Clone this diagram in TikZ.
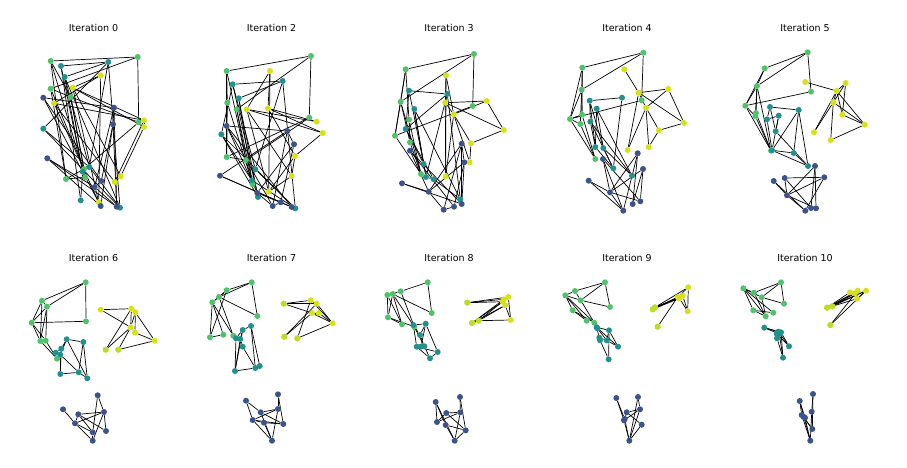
\documentclass[tikz,border=0pt]{standalone}
\usepackage{fontspec}
\setmainfont{DejaVu Sans}
\pgfdeclarelayer{bg}
\pgfsetlayers{bg,main}
\definecolor{cB}{HTML}{3B528B}
\definecolor{cT}{HTML}{21918C}
\definecolor{cG}{HTML}{4EC36B}
\definecolor{cY}{HTML}{D5E21A}
\definecolor{cL}{HTML}{BADE28}
\tikzset{
  dot/.style={circle,inner sep=0pt,minimum size=6pt,draw=none},
  edge/.style={draw=black,line width=0.7pt},
  ttl/.style={font=\fontsize{9.5}{11}\selectfont,inner sep=0pt}
}
\newcommand\grp[4]{\foreach \px/\py [count=\i] in {#4} {\node[dot,fill=#3] (#1#2\i) at (\px,\py) {};}}
\newcommand\edg[3]{\begin{pgfonlayer}{bg}\foreach \ea/\eb in {#3} {\draw[edge] (#1#2\ea) -- (#1#2\eb);}\end{pgfonlayer}}
\newcommand\lime[2]{\foreach \k in {#2} {\fill[cL] (#1\k.center) circle (3pt);}}
\begin{document}
\begin{tikzpicture}[x=1pt,y=-1pt]
\begin{pgfonlayer}{bg}
\fill[white] (0,0) rectangle (907,468);
\end{pgfonlayer}
\useasboundingbox (0,0) rectangle (907,468);
% titles
\node[ttl] (t0) at (93.5,28) {Iteration 0};
\node[ttl] (t2) at (271.5,28) {Iteration 2};
\node[ttl] (t3) at (449,28) {Iteration 3};
\node[ttl] (t4) at (627,28) {Iteration 4};
\node[ttl] (t5) at (805,28) {Iteration 5};
\node[ttl] (t6) at (93.5,258) {Iteration 6};
\node[ttl] (t7) at (271.5,258) {Iteration 7};
\node[ttl] (t8) at (449,258) {Iteration 8};
\node[ttl] (t9) at (627,258) {Iteration 9};
\node[ttl] (t10) at (805,258) {Iteration 10};
% ---- Iteration 0
\grp{A}{g}{cG}{50.7/61, 137.7/57, 50.7/88.7, 70.7/97, 138.7/122.3, 84/169, 85.3/177.3, 66/179}
\edg{A}{g}{1/2, 2/5, 1/8, 1/7, 1/4, 3/6, 3/8, 4/5, 4/7, 4/6, 5/6, 3/4, 7/8, 6/8, 2/3}
\grp{A}{t}{cT}{61/66, 108.3/62, 64.7/77, 43.3/128.7, 89.3/167, 82.7/171.7, 80.7/200.3, 120/207.7}
\edg{A}{t}{1/2, 2/3, 2/4, 3/5, 3/6, 1/6, 1/7, 4/8, 4/5, 5/8, 6/7, 3/8, 2/5, 2/8}
\grp{A}{y}{cY}{100.7/75.3, 72.7/87.7, 54/103.3, 144/120.3, 144/127, 120.7/176.3, 114.7/182, 98.7/202.3}
\edg{A}{y}{1/2, 1/3, 3/4, 2/5, 2/8, 3/7, 2/6, 4/5, 5/6, 4/7, 1/8, 6/7, 3/8, 2/4}
\grp{A}{b}{cB}{43.3/97.7, 114/107.7, 113/124.3, 47.3/158.3, 101.3/181, 94.7/187, 100.7/206, 116.7/206.7}
\edg{A}{b}{1/5, 1/7, 1/2, 2/3, 2/8, 3/5, 3/7, 4/6, 4/7, 4/8, 5/6, 6/8, 2/6, 3/8}
% ---- Iteration 2
\grp{B}{g}{cG}{311/56, 226.7/71, 227.3/102.7, 236.7/109.3, 309.3/117.7, 226.7/157, 246/160, 252.7/184.3}
\edg{B}{g}{1/2, 1/5, 2/3, 2/6, 3/6, 4/7, 5/6, 5/7, 4/8, 3/8, 2/7, 6/7, 7/8, 1/4}
\grp{B}{t}{cT}{232.7/84.3, 282.7/81, 238.7/98.3, 221.3/134.3, 255.3/169.3, 252/180.3, 258/197, 295.3/208.3}
\edg{B}{t}{1/2, 2/5, 2/8, 1/5, 1/7, 3/6, 3/7, 4/7, 4/8, 2/3, 5/6, 6/8, 4/6, 1/4, 5/8}
\grp{B}{y}{cY}{270/71, 246.7/109.3, 268/108.3, 316.7/121.7, 322.7/133, 295/156, 291.7/176, 268.7/191.7}
\edg{B}{y}{1/2, 1/8, 2/4, 2/5, 3/4, 3/6, 2/8, 5/6, 6/7, 7/8, 2/7, 3/5, 1/3, 6/8}
\grp{B}{b}{cB}{226.7/126, 287.3/131, 294/144.3, 220/175.7, 257.3/193, 272.7/206, 280.7/202.3, 291.7/207}
\edg{B}{b}{1/5, 1/8, 1/2, 2/3, 2/6, 3/7, 3/5, 4/7, 4/8, 5/6, 5/8, 6/7, 2/4, 1/6}
% ---- Iteration 3
\grp{C}{g}{cG}{474/54, 405.7/69.3, 400.7/101.7, 472.7/106, 409/119.7, 395/135.7, 410/142.3, 421/174}
\edg{C}{g}{1/2, 1/4, 2/3, 2/6, 3/6, 3/7, 6/4, 5/8, 3/8, 6/8, 7/8, 1/3, 5/7, 2/5}
\grp{C}{t}{cT}{409/90.7, 447.3/94, 414.3/109, 405.7/129, 423.7/164, 426/177, 433.7/179.3, 460.3/199.3}
\edg{C}{t}{1/2, 1/4, 2/4, 2/8, 3/6, 3/8, 4/5, 4/7, 5/6, 6/7, 1/5, 2/6, 7/8, 3/5}
\grp{C}{y}{cY}{446/75.3, 445.3/102.7, 486.7/101, 453.7/114.3, 503.7/130, 471/143.3, 469.7/162.3, 445.7/176.3}
\edg{C}{y}{1/2, 1/8, 2/3, 2/5, 3/5, 5/6, 4/3, 4/6, 4/7, 2/4, 2/8, 4/8, 6/7, 1/4}
\grp{C}{b}{cB}{461.7/143.7, 410/150.7, 464.3/162.3, 402/183.3, 428.7/191.7, 443.7/209.7, 454/206.7, 461.7/204}
\edg{C}{b}{1/3, 1/6, 1/8, 2/7, 2/8, 4/5, 4/8, 5/6, 5/3, 3/7, 3/8, 6/7, 2/5, 1/5}
% ---- Iteration 4
\grp{D}{g}{cG}{643.3/52.7, 582.3/67.7, 581.7/89.7, 641.7/100.3, 570/119, 582/114.7, 580.3/124, 595.3/159}
\edg{D}{g}{1/2, 1/3, 1/4, 2/3, 2/5, 3/6, 3/7, 5/6, 5/7, 5/4, 5/8, 6/8, 7/8, 3/5, 2/6}
\grp{D}{t}{cT}{622/97.7, 589.7/100.7, 596.7/108.7, 590.3/121.7, 595.3/147, 603.3/148, 613.3/168.3, 632/175.7}
\edg{D}{t}{1/2, 1/7, 2/5, 2/6, 3/5, 3/6, 3/8, 4/5, 4/8, 5/7, 6/8, 4/7, 2/4, 6/7}
\grp{D}{y}{cY}{624.3/69.3, 638.7/92.7, 668.3/89, 646/107.7, 684/123, 659/130.3, 627.7/150, 648.7/147}
\edg{D}{y}{1/2, 2/3, 2/5, 3/4, 3/5, 5/6, 4/6, 4/8, 4/7, 2/4, 6/8, 2/7}
\grp{D}{b}{cB}{637.7/153.3, 603/159, 643/169, 588.7/180.7, 610/192.3, 640.3/201.3, 632.7/204, 623.3/210.7}
\edg{D}{b}{1/7, 1/8, 2/5, 2/8, 2/6, 3/5, 3/6, 3/7, 4/5, 4/8, 5/6, 5/8, 1/5}
% ---- Iteration 5
\grp{E}{g}{cG}{807.7/52.3, 764.7/68.3, 757/86, 811/91.7, 745.3/105.7, 756/113, 755.3/116, 771/150.7}
\edg{E}{g}{1/2, 1/3, 1/4, 2/3, 2/5, 3/5, 3/6, 3/7, 5/4, 5/8, 6/8, 7/8, 3/8, 5/7}
\grp{E}{t}{cT}{770/107, 778.7/115.7, 798.7/110, 767/119.3, 775.7/131.3, 772/150.3, 793.7/153, 808/166}
\edg{E}{t}{1/3, 1/4, 1/5, 2/4, 2/5, 3/7, 3/6, 3/8, 4/6, 5/8, 6/7, 6/8, 7/8, 2/6}
\grp{E}{y}{cY}{805.3/82, 845.7/83, 836.7/91, 833.3/102.3, 842.3/114.7, 864.7/124.7, 814/132.3, 830.7/140}
\edg{E}{y}{1/3, 2/3, 2/4, 3/4, 3/5, 3/6, 4/6, 5/6, 4/7, 3/7, 4/8, 6/8, 2/5}
\grp{E}{b}{cB}{815/166, 773.7/181, 784.7/178, 824.3/177.3, 787/195.3, 805.3/210.7, 811/208, 816/208.3}
\edg{E}{b}{1/7, 1/8, 2/6, 2/5, 3/5, 3/4, 3/7, 4/6, 4/5, 5/6, 5/8, 1/5}
% ---- Iteration 6
\grp{F}{g}{cG}{85.7/282.3, 42/300.7, 47/306.7, 31.7/322.7, 86/321.3, 40.3/341, 45.7/340.7, 57/358.7}
\edg{F}{g}{1/2, 1/3, 1/5, 2/3, 2/4, 3/4, 4/5, 2/6, 3/7, 4/6, 4/7, 6/8, 7/8, 3/6}
\grp{F}{t}{cT}{66.7/339.3, 83.3/342, 61.3/348.7, 55.7/352.7, 60.3/354.7, 60.3/374, 78.7/372.3, 87.3/378.3}
\edg{F}{t}{1/2, 1/3, 1/5, 2/7, 2/8, 3/6, 4/5, 5/6, 6/7, 7/8, 1/8, 3/4, 5/7}
\grp{F}{y}{cY}{100.7/309.7, 131.3/308.7, 135.3/312.3, 130.7/327.3, 135/332.7, 154.7/340.7, 105.7/349.7, 118.3/349.7}
\edg{F}{y}{1/2, 1/4, 2/3, 2/4, 2/7, 3/6, 4/5, 4/7, 5/6, 6/8, 3/4, 4/8, 3/5}
\lime{Fy}{7,8}
\grp{F}{b}{cB}{97.7/395.3, 63/409.3, 78.3/414.3, 104/412, 75/423.3, 106/431, 92.7/432.3, 92.7/440.7}
\edg{F}{b}{1/4, 1/7, 2/5, 3/5, 3/4, 3/6, 4/5, 4/6, 4/8, 5/7, 5/8, 7/8, 3/7}
% ---- Iteration 7
\grp{G}{g}{cG}{251.7/282.3, 226.7/290.3, 219/297, 212.3/302.3, 257.3/316, 210/337.3, 223.3/334.7, 233.3/335.7}
\edg{G}{g}{1/2, 1/3, 1/5, 2/3, 3/5, 2/4, 3/4, 4/6, 4/7, 3/8, 2/6, 6/7, 4/8}
\grp{G}{t}{cT}{242.7/330, 251/326, 236/338.3, 240.3/339, 242.7/346.7, 235/371, 255.3/368, 259.7/366}
\edg{G}{t}{1/2, 1/3, 1/4, 2/7, 2/8, 3/6, 4/6, 5/7, 6/7, 7/8, 4/5, 1/6, 3/4}
\grp{G}{y}{cY}{283.7/303.7, 310.7/300.3, 316.7/303.7, 312/313, 318.7/313, 332.7/323.3, 284.3/336.7, 297.3/338.3}
\edg{G}{y}{1/2, 1/3, 1/4, 2/3, 2/6, 3/6, 4/6, 5/6, 7/3, 7/4, 8/2, 8/6, 4/5}
\lime{Gy}{1,7,8}
\grp{G}{b}{cB}{278/394.3, 246/400.7, 260.7/412.3, 278/409, 252.7/420, 264/422.7, 283.3/424, 272/440.7}
\edg{G}{b}{1/4, 1/7, 2/5, 2/3, 3/4, 3/7, 4/5, 5/6, 6/7, 6/8, 3/8, 4/8, 5/8, 5/7}
% ---- Iteration 8
\grp{H}{g}{cG}{427.7/282.3, 387.3/295, 392.7/294, 400.7/291.3, 431.7/313, 388/317.3, 402/324.3, 414.3/326.7}
\edg{H}{g}{1/4, 1/5, 3/5, 2/4, 2/6, 3/6, 2/7, 3/7, 3/8, 6/7, 2/3, 6/8, 4/8}
\grp{H}{t}{cT}{413.3/325, 425.7/323.7, 420/335, 416.7/346.7, 424.3/346.3, 437.7/352, 430/358.3, 421/346.5}
\edg{H}{t}{1/2, 1/3, 1/4, 2/3, 2/6, 3/5, 4/7, 5/7, 6/7, 4/6, 1/5, 2/8}
\grp{H}{y}{cY}{467.3/302.7, 504/299.3, 508.3/297, 505.3/305.3, 510.7/320, 478.7/320.7, 472/323, 502.7/301.7}
\edg{H}{y}{1/2, 1/3, 1/8, 2/7, 3/6, 4/6, 4/7, 3/5, 6/5, 7/8, 2/3, 6/7, 4/5}
\lime{Hy}{1,6,7}
\grp{H}{b}{cB}{460/397, 435.7/402, 446.3/413, 460.3/412.3, 437/422, 445.7/425, 465.7/430.3, 454.7/440.7}
\edg{H}{b}{1/4, 1/7, 2/5, 2/6, 2/8, 3/4, 3/5, 3/7, 4/5, 4/8, 6/7, 6/8, 7/8}
% ---- Iteration 9
\grp{I}{g}{cG}{605/282.3, 565.3/295.3, 575/291, 580.7/300.3, 610/307, 572.7/310.3, 586.7/320.7, 594.3/322.7}
\edg{I}{g}{1/3, 1/4, 1/5, 2/3, 2/4, 2/6, 2/7, 2/8, 4/5, 3/4, 6/7, 4/8, 6/8}
\grp{I}{t}{cT}{596.7/327.3, 609/330.3, 599.3/337.7, 600/340.3, 606.7/340.3, 618/346.7, 608.7/359.3, 597.3/328.3}
\edg{I}{t}{1/2, 1/3, 1/6, 2/5, 2/7, 3/5, 4/7, 5/6, 3/4, 8/5, 2/6}
\grp{I}{y}{cY}{652.7/309.3, 655/307.3, 677.7/297, 682.7/295.7, 679.3/298.3, 688.3/287.3, 687.7/311.3, 657.7/326.7}
\edg{I}{y}{1/3, 1/4, 2/5, 2/6, 3/6, 4/7, 5/7, 6/7, 8/3, 1/5, 2/4}
\lime{Iy}{1,2,8}
\grp{I}{b}{cB}{638/397, 616.3/398, 626.7/412.3, 640/409.3, 624/420.3, 641.7/424.7, 629.3/440.7, 624.7/419}
\edg{I}{b}{1/4, 1/7, 2/5, 2/8, 3/4, 3/6, 4/5, 4/7, 5/7, 6/7, 8/7, 3/5}
% ---- Iteration 10
\grp{J}{g}{cG}{781/282.3, 743.3/288.3, 754/292.7, 761.7/297.3, 784/303.7, 753.3/310.3, 765.7/316.3, 773.3/312.7}
\edg{J}{g}{1/3, 1/4, 1/5, 2/3, 2/4, 2/6, 2/8, 3/7, 4/5, 6/7, 6/8, 4/7, 2/7}
\grp{J}{t}{cT}{764.3/327.7, 778.3/331.7, 781/332.3, 777/338.3, 779.3/334, 789/346.3, 783/357.7, 776.7/333.7}
\edg{J}{t}{1/2, 1/3, 2/6, 3/6, 4/7, 5/7, 2/4, 1/5, 3/7, 6/8}
\grp{J}{y}{cY}{827/307.7, 832.3/306.3, 850/292.3, 857.7/290.7, 866/290.7, 857/298.7, 830.3/325, 855/293.3}
\edg{J}{y}{1/3, 1/4, 1/5, 2/5, 2/6, 2/8, 3/4, 4/6, 7/4, 7/5, 1/8, 6/5}
\lime{Jy}{1,2,7}
\grp{J}{b}{cB}{813/394, 799.7/401, 811.7/411.7, 801.7/415, 805/417.7, 812.3/429, 810.3/440.7, 803.3/416.7}
\edg{J}{b}{1/6, 1/3, 2/5, 2/7, 3/6, 3/7, 4/7, 5/7, 8/6, 4/6, 2/4}
\end{tikzpicture}
\end{document}
